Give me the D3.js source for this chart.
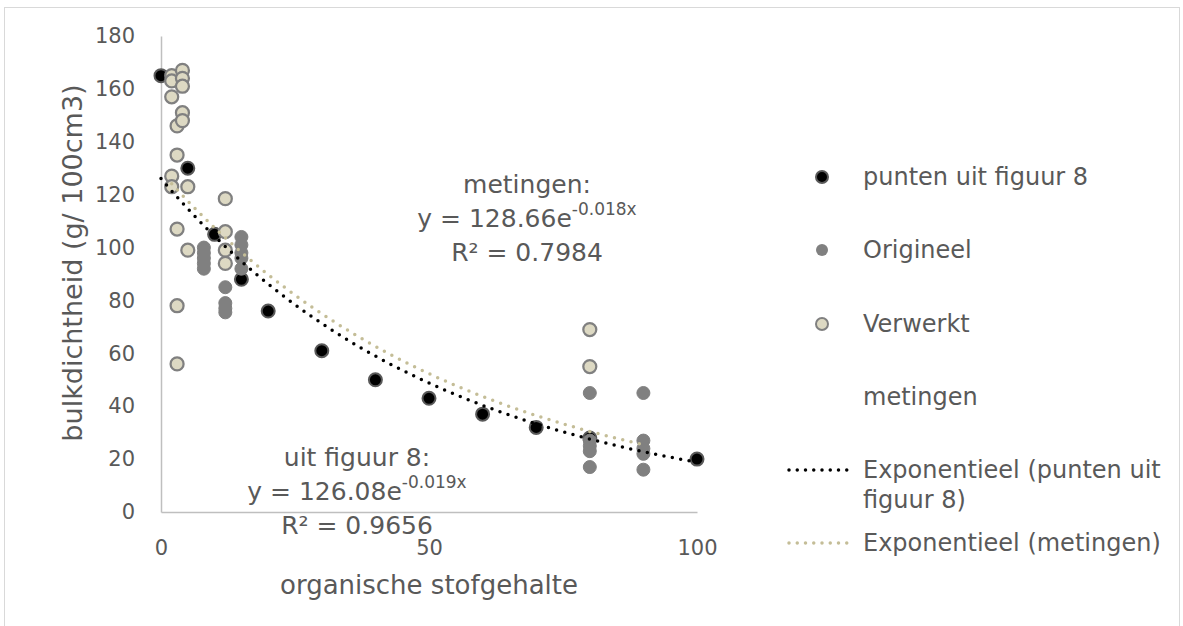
<!DOCTYPE html>
<html>
<head>
<meta charset="utf-8">
<script src="https://cdn.jsdelivr.net/npm/d3@7"></script>
<style>
  body { margin: 0; background: #fff; }
  svg text { font-family: "DejaVu Sans", Verdana, sans-serif; fill: #595959; }
</style>
</head>
<body>
<div id="chart"></div>
<script>
// data
var puntenX = [0, 5, 10, 15, 20, 30, 40, 50, 60, 70, 80, 100];
var puntenY = [165, 130, 105, 88, 76, 61, 50, 43, 37, 32, 28, 20];

var origineelX = [8, 8, 8, 8, 8, 12, 12, 12, 12, 15, 15, 15, 15, 15, 80, 80, 80, 80, 80, 90, 90, 90, 90, 90];
var origineelY = [100, 98, 96, 94, 92, 85, 79, 77, 75.5, 104, 101, 98, 96, 92, 45, 27, 25, 23, 17, 45, 27, 24, 22, 16];

var verwerktX = [2, 2, 2, 2, 2, 3, 3, 3, 3, 3, 4, 4, 4, 4, 4, 5, 5, 12, 12, 12, 12, 80, 80];
var verwerktY = [165, 163, 157, 127, 123, 146, 135, 107, 78, 56, 167, 164, 161, 151, 148, 123, 99, 118.5, 106, 99, 94, 69, 55];

// trend lines (Excel exponential fits): a * e^(b x)
var trendPunten = {a: 126.08, b: -0.019, from: 0, to: 100};
var trendMetingen = {a: 128.66, b: -0.018, from: 2, to: 90};

var xTicks = [0, 50, 100];
var yTicks = [0, 20, 40, 60, 80, 100, 120, 140, 160, 180];

var legendLabels = ["punten uit figuur 8", "Origineel", "Verwerkt", "metingen",
                    "Exponentieel (punten uit|figuur 8)", "Exponentieel (metingen)"];

var width = 1183, height = 626;

var svg = d3.select('#chart').append('svg')
    .attr('width', width)
    .attr('height', height);

// chart frame
svg.append('rect')
    .attr('x', 4.5).attr('y', 7.5)
    .attr('width', 1175).attr('height', 660)
    .attr('fill', 'none')
    .attr('stroke', '#d9d9d9')
    .attr('stroke-width', 1);

var x = d3.scaleLinear().domain([0, 100]).range([161, 697]);
var y = d3.scaleLinear().domain([0, 180]).range([512, 36]);

// axes
var xAxis = svg.append('g')
    .attr('transform', 'translate(0,' + y(0) + ')')
    .call(d3.axisBottom(x).tickValues(xTicks).tickSize(0).tickPadding(28));
var yAxis = svg.append('g')
    .attr('transform', 'translate(' + x(0) + ',0)')
    .call(d3.axisLeft(y).tickValues(yTicks).tickSize(0).tickPadding(26));

[xAxis, yAxis].forEach(function (ax) {
  ax.select('.domain').attr('stroke', '#bfbfbf').attr('stroke-width', 1.5);
  ax.selectAll('text')
    .style('font-family', '"DejaVu Sans", Verdana, sans-serif')
    .style('font-size', '21px')
    .attr('fill', '#595959');
});
xAxis.selectAll('text').attr('dy', '0.71em');

// axis titles
svg.append('text')
    .attr('x', 429).attr('y', 585)
    .attr('text-anchor', 'middle')
    .attr('dominant-baseline', 'central')
    .style('font-size', '26px')
    .text('organische stofgehalte');

svg.append('text')
    .attr('transform', 'translate(72,263) rotate(-90)')
    .attr('text-anchor', 'middle')
    .attr('dominant-baseline', 'central')
    .style('font-size', '27px')
    .text('bulkdichtheid (g/ 100cm3)');

// markers
function drawPoints(xs, ys, fill, stroke, sw) {
  svg.append('g').selectAll('circle')
    .data(xs.map(function (d, i) { return [d, ys[i]]; }))
    .enter().append('circle')
    .attr('cx', function (d) { return x(d[0]); })
    .attr('cy', function (d) { return y(d[1]); })
    .attr('r', 6.5)
    .attr('fill', fill)
    .attr('stroke', stroke)
    .attr('stroke-width', sw);
}
drawPoints(puntenX, puntenY, '#000000', '#595959', 2);
drawPoints(origineelX, origineelY, '#808080', '#808080', 1);
drawPoints(verwerktX, verwerktY, '#ddd9c3', '#808080', 2.25);

// trend lines
function drawTrend(t, color) {
  var pts = d3.range(t.from, t.to + 0.001, 0.5);
  var line = d3.line()
      .x(function (d) { return x(d); })
      .y(function (d) { return y(t.a * Math.exp(t.b * d)); });
  svg.append('path')
    .attr('d', line(pts))
    .attr('fill', 'none')
    .attr('stroke', color)
    .attr('stroke-width', 3.5)
    .attr('stroke-linecap', 'round')
    .attr('stroke-dasharray', '0 8.5');
}
drawTrend(trendPunten, '#000000');
drawTrend(trendMetingen, '#c4bd97');

// equation labels
function equation(cx, cy, title, a, b, r2) {
  var g = svg.append('g').style('font-size', '25px').attr('text-anchor', 'middle');
  g.append('text').attr('x', cx).attr('y', cy).attr('dominant-baseline', 'central').text(title);
  var t = g.append('text').attr('x', cx).attr('y', cy + 34).attr('dominant-baseline', 'central');
  t.append('tspan').text('y = ' + a + 'e');
  t.append('tspan').attr('dy', -9).style('font-size', '17px').text(b + 'x');
  g.append('text').attr('x', cx).attr('y', cy + 68).attr('dominant-baseline', 'central').text('R² = ' + r2);
}
equation(527, 184, 'metingen:', '128.66', '-0.018', '0.7984');
equation(357, 457, 'uit figuur 8:', '126.08', '-0.019', '0.9656');

// legend
var legendY = [177, 250, 324, 397, 470, 543];
var lg = svg.append('g');
legendLabels.forEach(function (label, i) {
  var ly = legendY[i];
  if (i === 0) {
    lg.append('circle').attr('cx', 822).attr('cy', ly).attr('r', 6).attr('fill', '#000').attr('stroke', '#595959').attr('stroke-width', 2);
  } else if (i === 1) {
    lg.append('circle').attr('cx', 822).attr('cy', ly).attr('r', 6).attr('fill', '#808080');
  } else if (i === 2) {
    lg.append('circle').attr('cx', 822).attr('cy', ly).attr('r', 6).attr('fill', '#ddd9c3').attr('stroke', '#808080').attr('stroke-width', 2);
  } else if (i >= 4) {
    lg.append('line').attr('x1', 789).attr('x2', 855).attr('y1', ly).attr('y2', ly)
      .attr('stroke', i === 4 ? '#000' : '#c4bd97')
      .attr('stroke-width', 3.5).attr('stroke-linecap', 'round').attr('stroke-dasharray', '0 8.25');
  }
  var parts = label.split('|');
  parts.forEach(function (p, j) {
    lg.append('text').attr('x', 863).attr('y', ly + j * 30)
      .attr('dominant-baseline', 'central')
      .style('font-size', '24px')
      .text(p);
  });
});
</script>
</body>
</html>
